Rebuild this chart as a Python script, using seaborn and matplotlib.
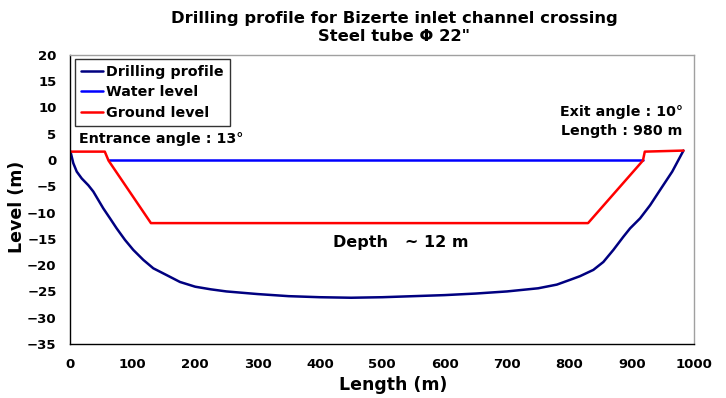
import matplotlib
matplotlib.use("Agg")
import matplotlib.pyplot as plt
import seaborn as sns

# Drilling profile (length in m, level in m)
profile_x = [0, 4.5, 10, 18, 28.6, 36.6, 44.6, 52.6, 63.4, 74, 87.4, 100.7,
             116.8, 132.8, 154.3, 175.6, 200, 225, 250, 300, 350, 400, 450,
             500, 550, 600, 650, 700, 750, 780, 801, 817, 838.5, 854.5, 870.6,
             886.6, 897.4, 913.4, 929.5, 945.5, 965, 983]
profile_y = [1.6, -0.6, -2.2, -3.5, -4.8, -6.0, -7.6, -9.2, -11.1, -13.0,
             -15.2, -17.1, -19.0, -20.6, -21.9, -23.2, -24.1, -24.6, -25.0,
             -25.5, -25.9, -26.1, -26.2, -26.1, -25.9, -25.7, -25.4, -25.0,
             -24.4, -23.7, -22.8, -22.1, -20.9, -19.4, -17.1, -14.6, -13.0,
             -11.1, -8.6, -5.7, -2.2, 1.8]

# Water surface
water_x = [61, 918]
water_y = [0, 0]

# Ground / seabed section
ground_x = [0, 55, 61, 129, 830, 918, 921, 983]
ground_y = [1.6, 1.6, -0.1, -12, -12, -0.1, 1.6, 1.8]

x_ticks = list(range(0, 1001, 100))
y_ticks = list(range(-35, 21, 5))

sns.set_style("white")
plt.rcParams["font.family"] = ["DejaVu Sans"]
plt.rcParams["font.weight"] = "bold"
plt.rcParams["text.color"] = "black"
plt.rcParams["axes.labelcolor"] = "black"
plt.rcParams["xtick.color"] = "black"
plt.rcParams["ytick.color"] = "black"

fig = plt.figure(figsize=(7.26, 3.98), dpi=100)
ax = fig.add_axes([0.0971, 0.1357, 0.8589, 0.7263])

sns.lineplot(x=profile_x, y=profile_y, ax=ax, color="#000080", lw=1.8,
             sort=False, label="Drilling profile")
sns.lineplot(x=water_x, y=water_y, ax=ax, color="#0000FF", lw=1.8,
             sort=False, label="Water level")
sns.lineplot(x=ground_x, y=ground_y, ax=ax, color="#FF0000", lw=1.8,
             sort=False, label="Ground level")

ax.set_xlim(0, 1000)
ax.set_ylim(-35, 20)
ax.set_xticks(x_ticks)
ax.set_yticks(y_ticks)
ax.tick_params(axis="both", direction="out", length=4, width=1, color="black",
               labelsize=9.5, pad=6)
for lbl in ax.get_xticklabels() + ax.get_yticklabels():
    lbl.set_fontweight("bold")

for side in ("left", "bottom"):
    ax.spines[side].set_color("black")
    ax.spines[side].set_linewidth(1.0)
for side in ("top", "right"):
    ax.spines[side].set_color("#a0a0a0")
    ax.spines[side].set_linewidth(1.0)

ax.set_xlabel("Length (m)", fontsize=12.5, fontweight="bold")
ax.set_ylabel("Level (m)", fontsize=12.5, fontweight="bold")
ax.xaxis.set_label_coords(0.517, -0.112)
ax.yaxis.set_label_coords(-0.072, 0.474)

fig.suptitle("Drilling profile for Bizerte inlet channel crossing\nSteel tube Φ 22\"",
             x=0.543, y=0.931, va="center", fontsize=11.8, fontweight="bold",
             linespacing=1.27)

leg = ax.legend(loc="upper left", bbox_to_anchor=(0.0, 1.0), frameon=True,
                fancybox=False, prop={"size": 10.3, "weight": "bold"},
                handlelength=1.6, handletextpad=0.2, labelspacing=0.45,
                borderpad=0.4, borderaxespad=0.3)
leg.get_frame().set_edgecolor("black")
leg.get_frame().set_linewidth(1.0)

ax.text(13, 4.0, "Entrance angle : 13°", fontsize=10.3, fontweight="bold",
        ha="left", va="center")
ax.text(982, 9.1, "Exit angle : 10°", fontsize=10.3, fontweight="bold",
        ha="right", va="center")
ax.text(982, 5.5, "Length : 980 m", fontsize=10.3, fontweight="bold",
        ha="right", va="center")
ax.text(421, -15.6, "Depth   ~ 12 m", fontsize=11.5, fontweight="bold",
        ha="left", va="center")

fig.savefig("out.png", dpi=100)
